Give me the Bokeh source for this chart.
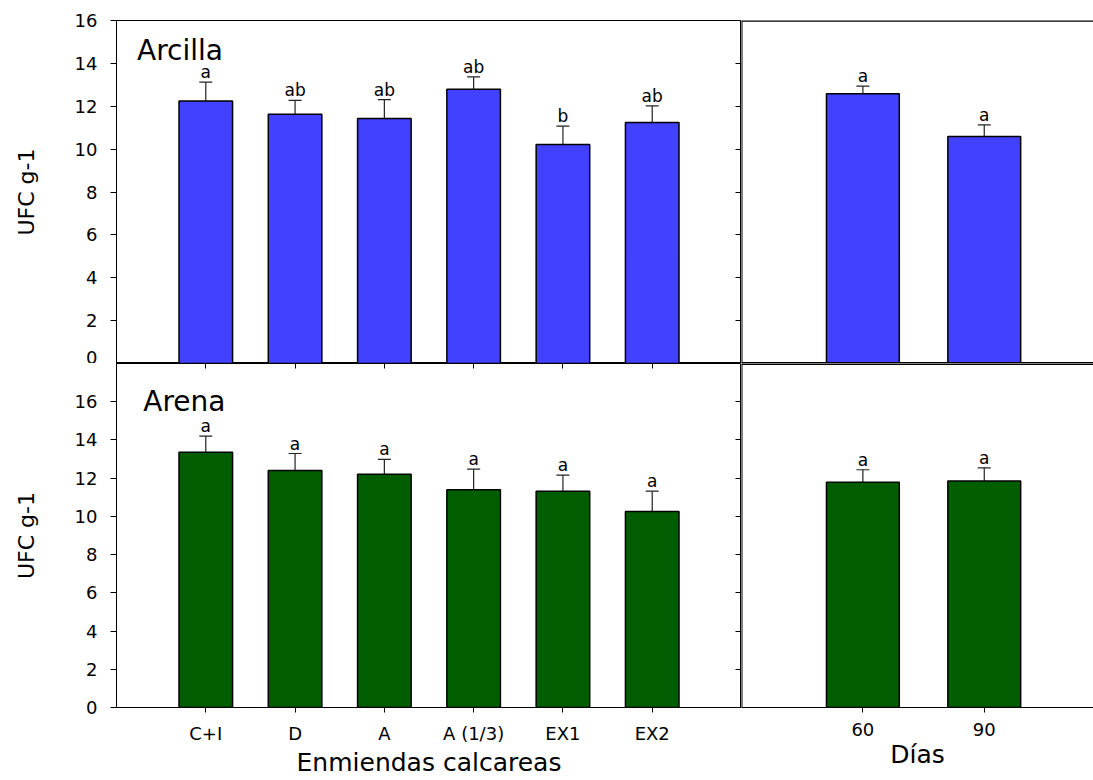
import numpy as np
from bokeh.plotting import figure
from bokeh.models import (Range1d, LinearAxis, FixedTicker, ColumnDataSource,
                          Whisker, TeeHead, Label)
from bokeh.layouts import gridplot
from bokeh.core.properties import value
from bokeh.embed import file_html
from bokeh.resources import INLINE

FONT = "DejaVu Sans"
BLUE = "#4141ff"
GREEN = "#005e00"

# categories
treatments = ["C+I", "D", "A", "A (1/3)", "EX1", "EX2"]
days = ["60", "90"]

# Arcilla (clay soil): mean UFC g-1, standard error, significance letters
arcilla_trat = [12.25, 11.63, 11.43, 12.79, 10.21, 11.24]
arcilla_trat_err = [0.88, 0.64, 0.88, 0.58, 0.86, 0.78]
arcilla_trat_sig = ["a", "ab", "ab", "ab", "b", "ab"]
arcilla_dias = [12.58, 10.59]
arcilla_dias_err = [0.36, 0.54]
arcilla_dias_sig = ["a", "a"]

# Arena (sandy soil)
arena_trat = [13.36, 12.40, 12.20, 11.39, 11.32, 10.26]
arena_trat_err = [0.84, 0.89, 0.78, 1.08, 0.84, 1.06]
arena_trat_sig = ["a", "a", "a", "a", "a", "a"]
arena_dias = [11.79, 11.85]
arena_dias_err = [0.65, 0.69]
arena_dias_sig = ["a", "a"]

y_ticks = [0, 2, 4, 6, 8, 10, 12, 14, 16]
TOP_MAX, BOT_MAX = 16, 18


def line_axis(ticks=(), tick_in=0, line_width=2, line_color="black", fixed=None):
    """Axis drawn inside the frame: a frame edge, optionally with inward ticks."""
    ax = LinearAxis(ticker=FixedTicker(ticks=list(ticks)))
    ax.major_tick_in = tick_in
    ax.major_tick_out = 0
    ax.minor_tick_in = 0
    ax.minor_tick_out = 0
    ax.axis_line_color = line_color
    ax.axis_line_width = line_width
    ax.major_tick_line_color = "black"
    ax.major_tick_line_width = 1
    ax.major_label_text_color = None
    ax.major_label_standoff = 0
    ax.fixed_location = fixed
    return ax


def label_axis(ticks, title, overrides=None, tick_out=6, standoff=13, label_size="18px",
               title_size="22px", title_standoff=29, bounds=None):
    ax = LinearAxis(ticker=FixedTicker(ticks=list(ticks)))
    ax.major_tick_in = 0
    ax.major_tick_out = tick_out
    ax.minor_tick_in = 0
    ax.minor_tick_out = 0
    ax.axis_line_color = "black"
    ax.axis_line_width = 1
    ax.major_tick_line_color = "black"
    ax.major_tick_line_width = 1
    ax.major_label_text_font = FONT
    ax.major_label_text_font_size = label_size
    ax.major_label_text_color = "black"
    ax.major_label_standoff = standoff
    if overrides:
        ax.major_label_overrides = overrides
    ax.axis_label = title
    ax.axis_label_text_font = FONT
    ax.axis_label_text_font_size = title_size
    ax.axis_label_text_font_style = "normal"
    ax.axis_label_text_color = "black"
    ax.axis_label_standoff = title_standoff
    if bounds is not None:
        ax.bounds = bounds
    return ax


def panel(width, height, x_end, y_end, borders, vals, errs, sig, color, outline):
    left, right, top, bottom = borders
    p = figure(width=width, height=height,
               x_range=Range1d(0, x_end), y_range=Range1d(0, y_end),
               x_axis_location=None, y_axis_location=None,
               toolbar_location=None, output_backend="svg",
               min_border_left=left, min_border_right=right,
               min_border_top=top, min_border_bottom=bottom,
               background_fill_color="white", border_fill_color="white",
               outline_line_color="black" if outline else None, outline_line_width=1)
    p.grid.visible = False
    pos = np.arange(1, len(vals) + 1)
    vals = np.asarray(vals, dtype=float)
    errs = np.asarray(errs, dtype=float)
    src = ColumnDataSource(dict(x=pos, top=vals, upper=vals + errs, sig=sig))
    p.add_layout(Whisker(base="x", lower="top", upper="upper", source=src,
                         line_color="#222222", line_width=1.2,
                         upper_head=TeeHead(size=13, line_color="#222222", line_width=1.2),
                         lower_head=None))
    p.vbar(x="x", top="top", bottom=0, width=0.6, source=src,
           fill_color=color, line_color="black", line_width=1.5)
    p.text(x="x", y="upper", text="sig", source=src,
           text_align="center", text_baseline="alphabetic", y_offset=-10,
           text_font=value(FONT), text_font_size="17px", text_color="black")
    return p, pos


n_t = len(treatments)
n_d = len(days)
inner_ticks = y_ticks[1:]

# top-left: Arcilla by treatment
tl, pos_t = panel(741, 363, n_t + 1, TOP_MAX, (116, 0, 20, 0),
                  arcilla_trat, arcilla_trat_err, arcilla_trat_sig, BLUE, True)
tl.add_layout(label_axis(y_ticks, "UFC g-1", title_standoff=33), "left")
tl.add_layout(line_axis(inner_ticks, tick_in=6, fixed=n_t + 1), "right")
tl.add_layout(Label(x=0.23, y=14.6, text="Arcilla", text_font=FONT,
                    text_font_size="28px", text_color="black", text_baseline="alphabetic"))

# top-right: Arcilla by days
tr, pos_d = panel(352, 363, 2.9, TOP_MAX, (0, 0, 20, 0),
                  arcilla_dias, arcilla_dias_err, arcilla_dias_sig, BLUE, False)
tr.add_layout(line_axis(fixed=0), "left")
tr.add_layout(line_axis(line_width=2.5, fixed=TOP_MAX), "above")
tr.add_layout(line_axis(line_width=3, fixed=0), "below")

# bottom-left: Arena by treatment; the upper panel's category ticks point down into it
bl, _ = panel(741, 417, n_t + 1, BOT_MAX, (116, 0, 0, 73),
              arena_trat, arena_trat_err, arena_trat_sig, GREEN, True)
bl.add_layout(label_axis(y_ticks, "UFC g-1", title_standoff=33), "left")
bl.add_layout(line_axis(pos_t, tick_in=5, line_color=None, fixed=BOT_MAX), "above")
bl.add_layout(line_axis(inner_ticks, tick_in=6, fixed=n_t + 1), "right")
bl.add_layout(label_axis(pos_t, "Enmiendas calcareas",
                         overrides={int(k): c for k, c in zip(pos_t, treatments)},
                         tick_out=5, standoff=10, label_size="18px",
                         title_size="25px", title_standoff=1), "below")
bl.add_layout(Label(x=0.30, y=16.0, text="Arena", text_font=FONT,
                    text_font_size="28px", text_color="black", text_baseline="alphabetic"))

# bottom-right: Arena by days
br, _ = panel(352, 417, 2.9, BOT_MAX, (0, 0, 0, 73),
              arena_dias, arena_dias_err, arena_dias_sig, GREEN, False)
br.add_layout(line_axis(fixed=0), "left")
br.add_layout(line_axis(line_width=3, fixed=BOT_MAX), "above")
br.add_layout(label_axis(pos_d, "Días",
                         overrides={int(k): c for k, c in zip(pos_d, days)},
                         tick_out=5, standoff=10, label_size="18px",
                         title_size="25px", title_standoff=1, bounds=(0, n_d + 1)), "below")

layout = gridplot([[tl, tr], [bl, br]], toolbar_location=None)

with open("out.html", "w") as f:
    f.write(file_html(layout, INLINE))
